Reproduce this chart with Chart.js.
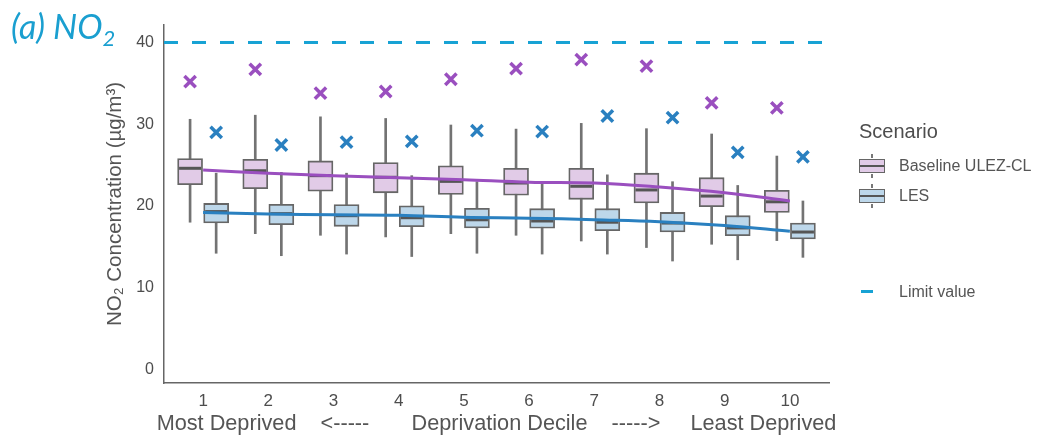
<!DOCTYPE html>
<html>
<head>
<meta charset="utf-8">
<script src="https://cdn.jsdelivr.net/npm/chart.js@4.4.1/dist/chart.umd.min.js"></script>
<style>
    body { margin: 0; background: #fff; }
    #wrap { position: relative; width: 1042px; height: 439px; overflow: hidden; }
    #chart { position: absolute; left: 0; top: 0; }
    .title { position: absolute; left: 11px; top: 9px; font: italic 34px Lato, sans-serif; color: #1a9fd0; line-height: 1; }
    .title sub { font-size: 22px; vertical-align: -7px; line-height: 0; }
    .x-title { position: absolute; left: 0; width: 993px; top: 410px; text-align: center; white-space: pre;
        font: 21.7px 'Liberation Sans', Arial, sans-serif; line-height: 26px; color: #555; }
    .legend { position: absolute; left: 859px; top: 120px; font-family: 'Liberation Sans', Arial, sans-serif; color: #555; }
    .legend-title { font-size: 20px; line-height: 23px; color: #4d4d4d; margin-bottom: 8px; }
    .item { position: relative; height: 30px; font-size: 16px; line-height: 30px; padding-left: 40px; }
    .icon { position: absolute; left: 0; top: 8px; width: 24px; height: 12px; border: 1.5px solid #666; }
    .icon::before { content: ''; position: absolute; left: 11px; width: 2px; height: 4px; top: -6px; background: #777; }
    .icon::after { content: ''; position: absolute; left: 11px; width: 2px; height: 4px; bottom: -6px; background: #777; }
    .icon span { position: absolute; left: 0; right: 0; top: 5px; height: 2px; background: #555; }
    .dash { position: absolute; left: 2px; top: 13px; width: 12px; height: 3px; background: #17a2d4; }
</style>
</head>
<body>
<div id="wrap">
    <canvas id="chart" width="1042" height="439"></canvas>
    <div class="title">(a) NO<sub>2</sub></div>
    <div class="x-title">Most Deprived    &lt;-----       Deprivation Decile    -----&gt;     Least Deprived</div>
    <div class="legend">
        <div class="legend-title">Scenario</div>
        <div class="item"><div class="icon" style="background:#e1cbe7"><span></span></div>Baseline ULEZ-CL</div>
        <div class="item"><div class="icon" style="background:#bdd7ea"><span></span></div>LES</div>
        <div class="item" style="margin-top:66px"><div class="dash"></div>Limit value</div>
    </div>
</div>
<script>
// Datos
const deciles = [1, 2, 3, 4, 5, 6, 7, 8, 9, 10];
const yTicks = [0, 10, 20, 30, 40];
const limitValue = 40;

// Baseline ULEZ-CL
const baseLow = [18.0, 16.6, 16.4, 16.2, 16.6, 16.4, 15.7, 14.9, 15.3, 15.75];
const baseQ1 = [22.6, 22.1, 21.8, 21.6, 21.4, 21.3, 20.8, 20.35, 19.9, 19.2];
const baseMedian = [24.6, 24.3, 23.7, 23.5, 23.0, 22.8, 22.4, 21.95, 21.2, 20.5];
const baseQ3 = [25.8, 25.7, 25.5, 25.3, 24.9, 24.6, 24.6, 24.0, 23.45, 21.9];
const baseHigh = [30.6, 31.1, 30.9, 30.7, 29.9, 29.4, 30.1, 29.45, 28.8, 26.1];
const baseMean = [35.2, 36.7, 33.8, 34.0, 35.5, 36.8, 37.9, 37.1, 32.6, 32.0];
const baseTrend = [24.4, 24.0, 23.7, 23.45, 23.2, 22.9, 22.8, 22.3, 21.6, 20.6];

// LES
const lesLow = [14.2, 13.9, 14.1, 13.8, 14.2, 14.1, 14.1, 13.25, 13.4, 13.7];
const lesQ1 = [17.9, 17.7, 17.5, 17.45, 17.3, 17.26, 16.97, 16.8, 16.35, 15.95];
const lesMedian = [19.3, 19.05, 18.8, 18.55, 18.3, 18.15, 18.0, 17.9, 17.3, 16.8];
const lesQ3 = [20.3, 20.2, 20.15, 20.0, 19.7, 19.66, 19.66, 19.2, 18.8, 17.9];
const lesHigh = [24.0, 24.1, 24.0, 23.7, 22.96, 22.8, 23.8, 22.96, 22.5, 20.6];
const lesMean = [29.0, 27.45, 27.8, 27.9, 29.2, 29.1, 31.0, 30.8, 26.55, 26.0];
const lesTrend = [19.2, 19.0, 18.9, 18.85, 18.6, 18.5, 18.3, 18.07, 17.6, 16.9];

// Separación de las cajas dentro de cada decil
const dodge = 0.2;

const purple = '#9a4fbf';
const blue = '#2a80c0';
const boxBorder = '#666';

function pairs(offset, arrA, arrB) {
    return deciles.map((d, i) => ({ x: d + offset, y: arrB ? [arrA[i], arrB[i]] : arrA[i] }));
}

function boxSets(offset, low, q1, med, q3, high, fill) {
    return [
        {
            type: 'bar', data: pairs(offset, low, high), backgroundColor: '#737373',
            barThickness: 2, grouped: false, order: 10
        },
        {
            type: 'bar', data: pairs(offset, q1, q3), backgroundColor: fill,
            borderColor: boxBorder, borderWidth: 1.8, borderSkipped: false,
            barThickness: 25, grouped: false, order: 9
        },
        {
            type: 'scatter', data: pairs(offset, med), pointStyle: 'line',
            pointRadius: 11, borderColor: '#555', borderWidth: 3, order: 8
        }
    ];
}

const datasets = [
    ...boxSets(-dodge, baseLow, baseQ1, baseMedian, baseQ3, baseHigh, '#e1cbe7'),
    ...boxSets(dodge, lesLow, lesQ1, lesMedian, lesQ3, lesHigh, '#bdd7ea'),
    {
        type: 'line', data: pairs(0, baseTrend), borderColor: purple, borderWidth: 3,
        pointRadius: 0, tension: 0.4, order: 3
    },
    {
        type: 'line', data: pairs(0, lesTrend), borderColor: blue, borderWidth: 3,
        pointRadius: 0, tension: 0.4, order: 3
    },
    {
        type: 'scatter', data: pairs(-dodge, baseMean), pointStyle: 'crossRot',
        pointRadius: 8, borderColor: purple, borderWidth: 3.5, order: 1
    },
    {
        type: 'scatter', data: pairs(dodge, lesMean), pointStyle: 'crossRot',
        pointRadius: 8, borderColor: blue, borderWidth: 3.5, order: 1
    },
    {
        type: 'line', data: [{ x: 0.4, y: limitValue }, { x: 10.6, y: limitValue }],
        borderColor: '#17a2d4', borderWidth: 3, borderDash: [14, 14], pointRadius: 0, order: 2
    }
];

Chart.defaults.font.family = "'Liberation Sans', Arial, sans-serif";

new Chart(document.getElementById('chart'), {
    type: 'bar',
    data: { datasets: datasets },
    options: {
        responsive: false,
        animation: false,
        layout: { padding: { left: 103, right: 213, top: 25, bottom: 3 } },
        plugins: { legend: { display: false }, tooltip: { enabled: false } },
        scales: {
            x: {
                type: 'linear', min: 0.4, max: 10.6, offset: false,
                grid: { display: false, drawTicks: false },
                border: { display: true, color: '#666', width: 1.5 },
                afterBuildTicks: s => { s.ticks = deciles.map(v => ({ value: v })); },
                afterFit: s => { s.height = 53; },
                ticks: { color: '#4d4d4d', font: { size: 17 }, padding: 8 },
                // el título va en HTML porque es más ancho que el eje
                title: { display: false }
            },
            y: {
                min: -1.68, max: 42.14,
                grid: { display: false, drawTicks: false },
                border: { display: true, color: '#666', width: 1.5 },
                afterBuildTicks: s => { s.ticks = yTicks.map(v => ({ value: v })); },
                afterFit: s => { s.width = 61; },
                ticks: { color: '#4d4d4d', font: { size: 16 }, padding: 10 },
                title: {
                    display: true, text: 'NO₂ Concentration (µg/m³)',
                    color: '#555', font: { size: 20.5 }, padding: { top: 0, bottom: 0 }
                }
            }
        }
    }
});
</script>
</body>
</html>
